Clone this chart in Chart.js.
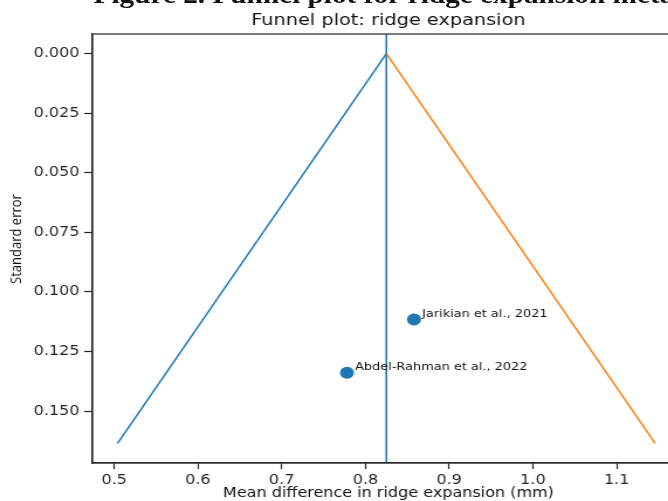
<!DOCTYPE html>
<html>
<head>
<meta charset="utf-8">
<script src="https://cdn.jsdelivr.net/npm/chart.js@4/dist/chart.umd.min.js"></script>
<style>
  html, body { margin: 0; padding: 0; background: #fff; overflow: hidden; width: 668px; height: 501px; }
  /* the source figure is stretched sideways, so everything is drawn narrow and scaled */
  #wrap { position: absolute; left: 0; top: 0; width: 600px; height: 501px; transform: scaleX(1.17); transform-origin: 0 0; }
  #heading { position: absolute; left: 80px; top: -18px; white-space: nowrap; font: bold 25px "Liberation Serif", serif; line-height: 1; color: #111; }
  canvas { position: absolute; left: 0; top: 0; }
</style>
</head>
<body>
<div id="wrap">
  <div id="heading">Figure 2. Funnel plot for ridge expansion meta-analysis</div>
  <canvas id="funnel" width="600" height="501"></canvas>
</div>
<script>
// values
const pooledMD = 0.825
const funnelLeftX = [0.504, 0.825]
const funnelRightX = [1.146, 0.825]
const funnelSE = [0.1636, 0]

const studyNames = ['Jarikian et al., 2021', 'Abdel-Rahman et al., 2022']
const studyMD = [0.858, 0.778]
const studySE = [0.1116, 0.1339]

const xTicks = [0.5, 0.6, 0.7, 0.8, 0.9, 1.0, 1.1]
const yTicks = [0, 0.025, 0.05, 0.075, 0.1, 0.125, 0.15]
const xLimits = [0.474, 1.181]
const yLimits = [-0.0082, 0.1718]

const BLUE = '#1f77b4'
const ORANGE = '#ff7f0e'
const AXIS = '#262626'
const TICK_FONT = { family: 'DejaVu Sans', size: 13.7 }

const toPoints = (xs, ys) => xs.map((x, i) => ({ x, y: ys[i] }))

// title, y label, top/right spines and study labels
const extras = {
  id: 'extras',
  afterDatasetsDraw (chart) {
    const { ctx, chartArea: a, scales } = chart
    ctx.save()
    ctx.strokeStyle = AXIS
    ctx.lineWidth = 1.2
    ctx.strokeRect(a.left, a.top, a.right - a.left, a.bottom - a.top)

    ctx.fillStyle = '#111'
    ctx.font = '16.5px "DejaVu Sans"'
    ctx.textAlign = 'center'
    ctx.textBaseline = 'middle'
    ctx.fillText('Funnel plot: ridge expansion', (a.left + a.right) / 2, 21)

    // the y label sits a little above the axis middle in the source
    ctx.save()
    ctx.translate(14.5, 239)
    ctx.rotate(-Math.PI / 2)
    ctx.font = '13px "Open Sans"'
    ctx.fillText('Standard error', 0, 0)
    ctx.restore()

    ctx.font = '11px "DejaVu Sans"'
    ctx.textAlign = 'left'
    ctx.textBaseline = 'alphabetic'
    studyNames.forEach((name, i) => {
      const px = scales.x.getPixelForValue(studyMD[i])
      const py = scales.y.getPixelForValue(studySE[i])
      ctx.fillText(name, px + 7, py - 3)
    })
    ctx.restore()
  }
}

new Chart(document.getElementById('funnel'), {
  type: 'scatter',
  data: {
    datasets: [
      { data: toPoints(funnelLeftX, funnelSE), showLine: true, borderColor: BLUE, borderWidth: 1.5, pointRadius: 0 },
      { data: toPoints(funnelRightX, funnelSE), showLine: true, borderColor: ORANGE, borderWidth: 1.5, pointRadius: 0 },
      { data: toPoints([pooledMD, pooledMD], yLimits), showLine: true, borderColor: BLUE, borderWidth: 1.5, pointRadius: 0 },
      { data: toPoints(studyMD, studySE), backgroundColor: BLUE, borderWidth: 0, pointRadius: 6 }
    ]
  },
  options: {
    responsive: false,
    animation: false,
    devicePixelRatio: 1,
    layout: { padding: { top: 34, right: 15, left: 0, bottom: 0 } },
    plugins: { legend: { display: false }, tooltip: { enabled: false } },
    scales: {
      x: {
        type: 'linear',
        min: xLimits[0],
        max: xLimits[1],
        afterBuildTicks: s => { s.ticks = xTicks.map(v => ({ value: v })) },
        afterFit: s => { s.height = 38 },
        ticks: { font: TICK_FONT, color: AXIS, padding: 3, maxRotation: 0, callback: v => v.toFixed(1) },
        grid: { drawOnChartArea: false, tickLength: 6, tickColor: AXIS, tickWidth: 1.2 },
        border: { color: AXIS, width: 1.2 },
        title: { display: true, text: 'Mean difference in ridge expansion (mm)', font: { ...TICK_FONT, lineHeight: 1.1 }, color: '#111', padding: { top: 0, bottom: 0 } }
      },
      y: {
        type: 'linear',
        reverse: true,
        min: yLimits[0],
        max: yLimits[1],
        afterBuildTicks: s => { s.ticks = yTicks.map(v => ({ value: v })) },
        afterFit: s => { s.width = 79 },
        ticks: { font: TICK_FONT, color: AXIS, padding: 4, callback: v => v.toFixed(3) },
        grid: { drawOnChartArea: false, tickLength: 7, tickColor: AXIS, tickWidth: 1.2 },
        border: { color: AXIS, width: 1.2 }
      }
    }
  },
  plugins: [extras]
})
</script>
</body>
</html>
